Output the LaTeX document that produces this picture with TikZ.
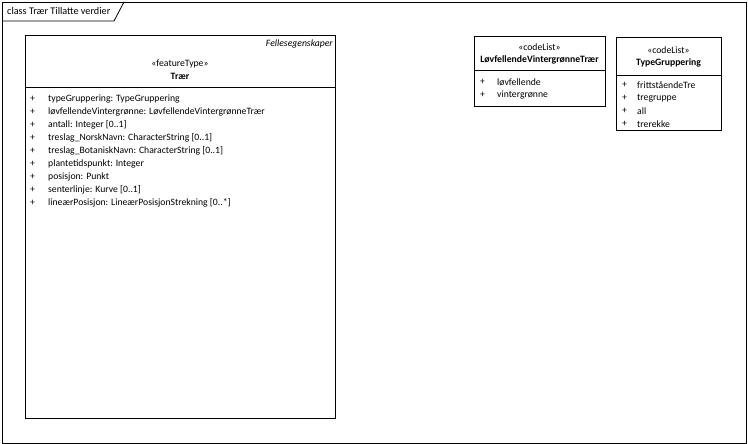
\documentclass[tikz,border=0pt]{standalone}
\usepackage{fontspec}
\setmainfont{Carlito}
\begin{document}
\begin{tikzpicture}[x=1pt,y=-1pt,
  box/.style={draw=black,line width=1pt,anchor=north west,inner sep=0pt},
  txt/.style={inner sep=0pt,font=\fontsize{9.7}{11}\selectfont},
  lt/.style={txt,anchor=west},
  ct/.style={txt,anchor=center}]
\useasboundingbox (0,0) rectangle (748,444);
% frame
\node[draw=black,line width=0.8pt,anchor=north west,inner sep=0pt,minimum width=744pt,minimum height=441pt] (frame) at (2,2) {};
\coordinate (tabA) at (124,2);
\coordinate (tabB) at (114,21);
\coordinate (tabC) at (2,21);
\draw[line width=0.8pt] (tabA) -- (tabB) -- (tabC);
\node[lt,font=\fontsize{10.2}{12}\selectfont] (title) at (7,11) {class Trær Tillatte verdier};

% Trær
\node[box,minimum width=310pt,minimum height=383pt] (traer) at (25,35) {};
\draw[line width=1pt] (25,88) -- (335,88);
\node[txt,anchor=east,font=\fontsize{9.7}{11}\selectfont\itshape] (fe) at (333,44) {Fellesegenskaper};
\node[ct] (ftst) at (180,64) {«featureType»};
\node[ct,font=\fontsize{9.7}{11}\selectfont\bfseries] (ftname) at (180,76) {Trær};
\foreach \i/\t in {0/{typeGruppering: TypeGruppering},
  1/{løvfellendeVintergrønne: LøvfellendeVintergrønneTrær},
  2/{antall: Integer [0..1]},
  3/{treslag\_NorskNavn: CharacterString [0..1]},
  4/{treslag\_BotaniskNavn: CharacterString [0..1]},
  5/{plantetidspunkt: Integer},
  6/{posisjon: Punkt},
  7/{senterlinje: Kurve [0..1]},
  8/{lineærPosisjon: LineærPosisjonStrekning [0..*]}} {
  \node[lt] (ap\i) at (30,99+13*\i) {+};
  \node[lt] (at\i) at (48,99+13*\i) {\t};
}

% LøvfellendeVintergrønneTrær
\node[box,minimum width=131pt,minimum height=70pt] (lv) at (474,36) {};
\draw[line width=1pt] (474,71) -- (605,71);
\node[ct] (lvst) at (539.5,47) {«codeList»};
\node[ct,font=\fontsize{9.7}{11}\selectfont\bfseries] (lvname) at (539.5,60) {LøvfellendeVintergrønneTrær};
\foreach \i/\t in {0/løvfellende,1/vintergrønne} {
  \node[lt] (lp\i) at (480,82+13*\i) {+};
  \node[lt] (lt\i) at (497,82+13*\i) {\t};
}

% TypeGruppering
\node[box,minimum width=105pt,minimum height=93pt] (tg) at (616,37) {};
\draw[line width=1pt] (616,76) -- (721,76);
\node[ct] (tgst) at (668.5,50) {«codeList»};
\node[ct,font=\fontsize{9.7}{11}\selectfont\bfseries] (tgname) at (668.5,63) {TypeGruppering};
\foreach \i/\t in {0/frittståendeTre,1/tregruppe,2/all,3/trerekke} {
  \node[lt] (tp\i) at (622,85+13*\i) {+};
  \node[lt] (tt\i) at (637,85+13*\i) {\t};
}
\end{tikzpicture}
\end{document}
